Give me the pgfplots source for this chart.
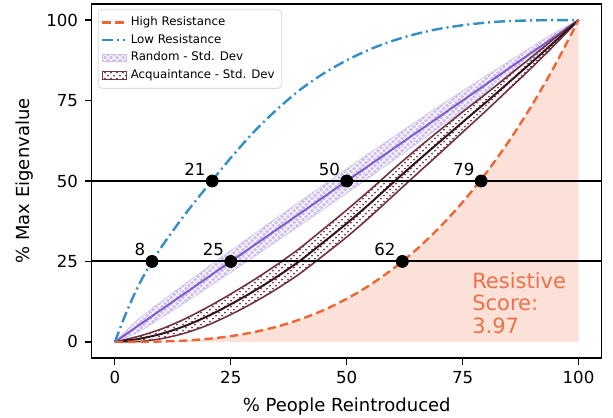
\documentclass[border=0pt]{standalone}
\usepackage{fontspec}
\setmainfont{DejaVu Sans}
\usepackage{pgfplots}
\usepackage{pgfplotstable}
\pgfplotsset{compat=1.18}
\usepgfplotslibrary{fillbetween}
\usetikzlibrary{patterns}

\definecolor{hiorange}{RGB}{240,101,52}
\definecolor{restext}{RGB}{238,112,72}
\definecolor{lowblue}{RGB}{52,143,196}
\definecolor{rndline}{RGB}{128,92,205}
\definecolor{rndfill}{RGB}{208,192,240}
\definecolor{acqedge}{RGB}{112,52,64}
\definecolor{acqline}{RGB}{50,20,28}
\definecolor{shade}{RGB}{251,225,216}

\pgfplotsset{
  lineleg/.style={legend image code/.code={\draw[##1] (0pt,0pt) -- (11.5pt,0pt);}},
  boxleg/.style={legend image code/.code={\draw[sharp corners, ##1] (0pt,-1.8pt) rectangle (12pt,1.8pt);}},
}

% high resistance curve
\pgfplotstableread{
x y
0 0
5 0.02
10 0.13
15 0.41
20 0.94
25 1.80
30 3.05
35 4.76
40 7.02
45 9.87
50 13.40
55 17.66
60 22.73
65 28.67
70 35.54
75 43.42
80 52.36
85 62.42
90 73.67
95 86.18
100 100
}\highres

% low resistance curve
\pgfplotstableread{
x y
0 0
2 7.5
4 14.2
6 20.0
8 25.0
10 29.4
12 33.5
15 39.4
18 44.9
21 50.2
25 57.2
30 65.3
35 72.3
40 78.4
45 83.4
50 87.5
55 90.9
60 93.6
65 95.7
70 97.3
75 98.4
80 99.2
85 99.7
90 99.9
95 100
100 100
}\lowres

% random: mean, lower, upper
\pgfplotstableread{
x mean lo hi
0 0 0 0
5 5 3.05 6.95
10 10 7.48 12.52
15 15 12.10 17.90
20 20 16.83 23.17
25 25 21.62 28.38
30 30 26.46 33.54
35 35 31.35 38.65
40 40 36.27 43.73
45 45 41.22 48.78
50 50 46.21 53.79
55 55 51.25 58.75
60 60 56.35 63.65
65 65 61.50 68.50
70 70 66.70 73.30
75 75 72.00 78.00
80 80 77.40 82.60
85 85 82.80 87.20
90 90 88.20 91.80
95 95 93.80 96.20
100 100 100 100
}\rnd

% acquaintance: mean, lower, upper
\pgfplotstableread{
x mean lo hi
0 0 0 0
5 0.9 0.1 1.7
10 2.5 1.0 4.0
15 4.9 2.7 7.1
20 8.0 5.2 10.8
25 11.7 8.5 14.9
30 15.8 12.3 19.3
35 20.3 16.55 24.05
40 25.3 21.35 29.25
45 31.0 26.9 35.1
50 36.8 32.6 41.0
55 43.0 38.8 47.2
60 49.5 45.4 53.6
65 55.9 52.0 59.8
70 62.1 58.5 65.7
75 68.3 65.15 71.45
80 74.4 71.75 77.05
85 80.7 78.55 82.85
90 87.0 85.35 88.65
95 93.5 92.5 94.5
100 100 100 100
}\acq

% crossing points
\pgfplotstableread{
x y lab
8 25 8
25 25 25
62 25 62
21 50 21
50 50 50
79 50 79
}\cross

\begin{document}
\begin{tikzpicture}
\begin{axis}[
  scale only axis, width=255pt, height=177pt,
  xmin=-5, xmax=105, ymin=-5, ymax=105,
  xtick={0,25,50,75,100}, ytick={0,25,50,75,100},
  tick align=outside, tick pos=left, major tick length=3.3pt,
  tick style={black, line width=0.6pt},
  axis line style={black, line width=0.6pt},
  ticklabel style={font=\fontsize{8.3}{10}\selectfont},
  /pgf/number format/assume math mode=true,
  xlabel={\% People Reintroduced}, ylabel={\% Max Eigenvalue},
  label style={font=\fontsize{9}{11}\selectfont},
  xlabel style={at={(axis description cs:0.5,-0.151)}, anchor=base},
  ylabel style={at={(axis description cs:-0.131,0.5)}, anchor=center},
  legend cell align=left,
  legend style={at={(0.012,0.985)}, anchor=north west, draw=black!15,
    rounded corners=2pt, font=\fontsize{5.9}{7}\selectfont, inner sep=1.5pt,
    row sep=-1.2pt},
]
\coordinate (bl) at (rel axis cs:0,0);
\coordinate (tr) at (rel axis cs:1,1);

\addlegendimage{lineleg, hiorange, line width=1.2pt, dash pattern=on 4.2pt off 2.2pt}
\addlegendentry{High Resistance}
\addlegendimage{lineleg, lowblue, line width=1.2pt, dash pattern=on 5.5pt off 2pt on 1pt off 2pt}
\addlegendentry{Low Resistance}
\addlegendimage{boxleg, fill=rndfill, draw=rndfill, postaction={pattern=crosshatch, pattern color=white}}
\addlegendentry{Random - Std. Dev}
\addlegendimage{boxleg, fill=white, draw=acqedge, postaction={pattern=crosshatch dots, pattern color=acqedge}}
\addlegendentry{Acquaintance - Std. Dev}

% shaded region under the high resistance curve
\addplot[smooth, fill=shade, draw=none, forget plot] table[x=x, y=y] {\highres} \closedcycle;

% random band
\addplot[smooth, name path=rlo, draw=rndfill, line width=0.3pt, forget plot] table[x=x, y=lo] {\rnd};
\addplot[smooth, name path=rhi, draw=rndfill, line width=0.3pt, forget plot] table[x=x, y=hi] {\rnd};
\addplot[fill=rndfill, postaction={pattern=crosshatch, pattern color=white}, forget plot]
  fill between[of=rlo and rhi];
\addplot[smooth, rndline, line width=1pt, forget plot] table[x=x, y=mean] {\rnd};

% acquaintance band
\addplot[smooth, name path=alo, draw=none, forget plot] table[x=x, y=lo] {\acq};
\addplot[smooth, name path=ahi, draw=none, forget plot] table[x=x, y=hi] {\acq};
\addplot[fill=white, postaction={pattern=crosshatch dots, pattern color=acqedge}, forget plot]
  fill between[of=alo and ahi];
\addplot[smooth, acqedge, line width=0.8pt, forget plot] table[x=x, y=lo] {\acq};
\addplot[smooth, acqedge, line width=0.8pt, forget plot] table[x=x, y=hi] {\acq};
\addplot[smooth, acqline, line width=1pt, forget plot] table[x=x, y=mean] {\acq};

% resistance curves
\addplot[smooth, hiorange, line width=1.2pt, dash pattern=on 4.2pt off 2.2pt, forget plot]
  table[x=x, y=y] {\highres};
\addplot[smooth, lowblue, line width=1.2pt, dash pattern=on 5.5pt off 2pt on 1pt off 2pt, forget plot]
  table[x=x, y=y] {\lowres};

% reference levels
\addplot[black, line width=1pt, forget plot] coordinates {(-5,25) (105,25)};
\addplot[black, line width=1pt, forget plot] coordinates {(-5,50) (105,50)};

% crossings
\addplot[only marks, mark=*, mark size=3pt, black, forget plot,
  point meta=explicit symbolic, nodes near coords,
  nodes near coords style={anchor=south east, inner sep=0pt, xshift=-3.2pt, yshift=2.6pt,
    font=\fontsize{8.3}{10}\selectfont, text=black}]
  table[x=x, y=y, meta=lab] {\cross};

\node[anchor=north west, align=left, inner sep=0pt, text=restext,
  font=\fontsize{10.5}{11.25}\selectfont] at (axis cs:77,21.8) {Resistive\\Score:\\3.97};
\end{axis}
\pgfresetboundingbox
\path[use as bounding box] ([xshift=-45.85pt, yshift=-29.85pt]bl) rectangle ([xshift=5.65pt, yshift=2pt]tr);
\end{tikzpicture}
\end{document}
